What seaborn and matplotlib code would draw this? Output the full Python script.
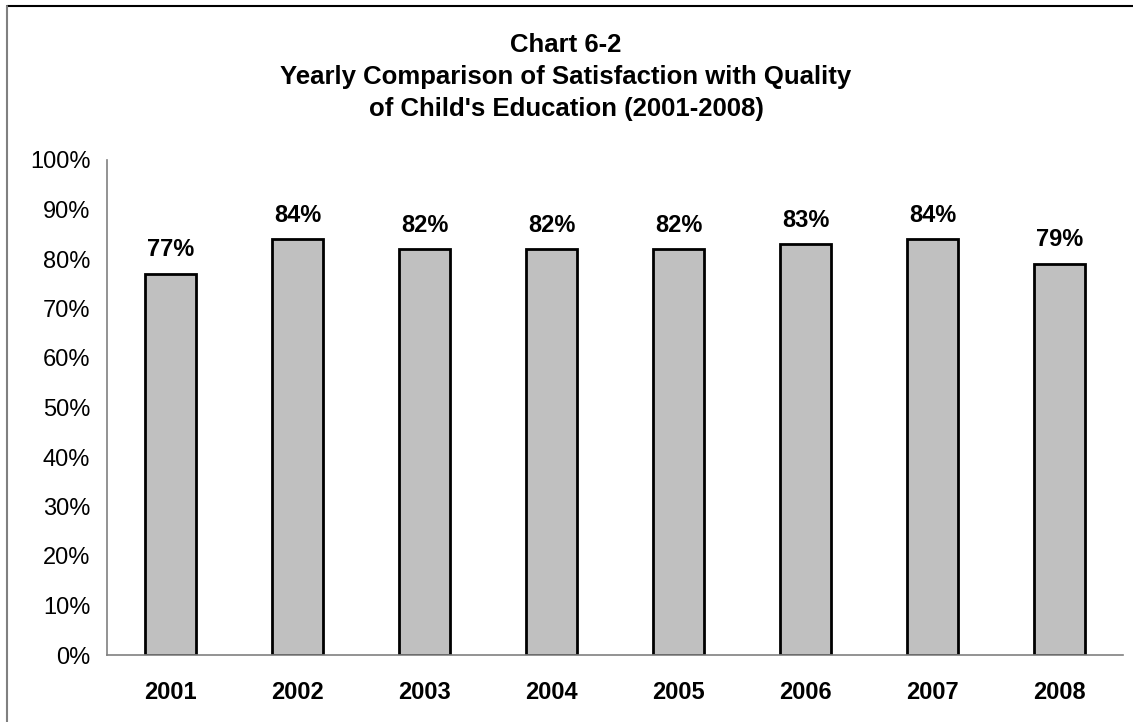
import numpy as np
import pandas as pd
import seaborn as sns
from matplotlib import pyplot as plt
from matplotlib.lines import Line2D
from matplotlib.ticker import PercentFormatter, FixedLocator

# Data
years = ['2001', '2002', '2003', '2004', '2005', '2006', '2007', '2008']
satisfied = [0.77, 0.84, 0.82, 0.82, 0.82, 0.83, 0.84, 0.79]
title = "Chart 6-2\nYearly Comparison of Satisfaction with Quality\nof Child's Education (2001-2008)"

data = pd.DataFrame({'year': years, 'satisfied': satisfied})

sns.set_style('white')
plt.rcParams['font.family'] = ['Liberation Sans', 'DejaVu Sans']
plt.rcParams['text.color'] = 'black'
plt.rcParams['xtick.labelcolor'] = 'black'
plt.rcParams['ytick.labelcolor'] = 'black'

W, H = 1133, 722
fig = plt.figure(figsize=(W / 100, H / 100), dpi=100)
ax = fig.add_axes([107 / W, (H - 655) / H, 1016 / W, 495 / H])

sns.barplot(data=data, x='year', y='satisfied', order=years, color='#C0C0C0',
            saturation=1, width=0.4, edgecolor='black', linewidth=2, ax=ax)

# value labels above bars
for i, v in enumerate(satisfied):
    ax.annotate(f'{v:.0%}', (i, v), xytext=(0, 9), textcoords='offset points',
                ha='center', va='bottom', fontsize=17, fontweight='bold', color='black')

ax.set_xlim(-0.5, len(years) - 0.5)
ax.set_ylim(0, 1)
ax.yaxis.set_major_locator(FixedLocator(np.arange(0, 1.01, 0.1)))
ax.yaxis.set_major_formatter(PercentFormatter(1.0, decimals=0))
ax.xaxis.set_minor_locator(FixedLocator(np.arange(-0.5, len(years), 1.0)))

ax.tick_params(axis='x', which='major', length=0, pad=19, labelsize=17, labelcolor='black')
for lbl in ax.get_xticklabels():
    lbl.set_fontweight('bold')
ax.tick_params(axis='x', which='minor', length=7, width=1, color='#808080', direction='out')
ax.tick_params(axis='y', length=7, width=1, color='#808080', direction='out', labelsize=17,
               pad=5, labelcolor='black')
ax.set_xlabel('')
ax.set_ylabel('')

for side in ['top', 'right']:
    ax.spines[side].set_visible(False)
for side in ['left', 'bottom']:
    ax.spines[side].set_color('#808080')
    ax.spines[side].set_linewidth(1.2)

fig.text(566 / W, 1 - 77 / H, title, ha='center', va='center', fontsize=18.5,
         fontweight='bold', linespacing=1.42, color='black')

# outer chart border (only top and left edges show in the picture)
fig.add_artist(Line2D([7 / W, 1.0], [1 - 6 / H, 1 - 6 / H], transform=fig.transFigure,
                      color='black', linewidth=1.5))
fig.add_artist(Line2D([7 / W, 7 / W], [0.0, 1 - 6 / H], transform=fig.transFigure,
                      color='#808080', linewidth=1.5))

fig.savefig('out.png', dpi=100)
